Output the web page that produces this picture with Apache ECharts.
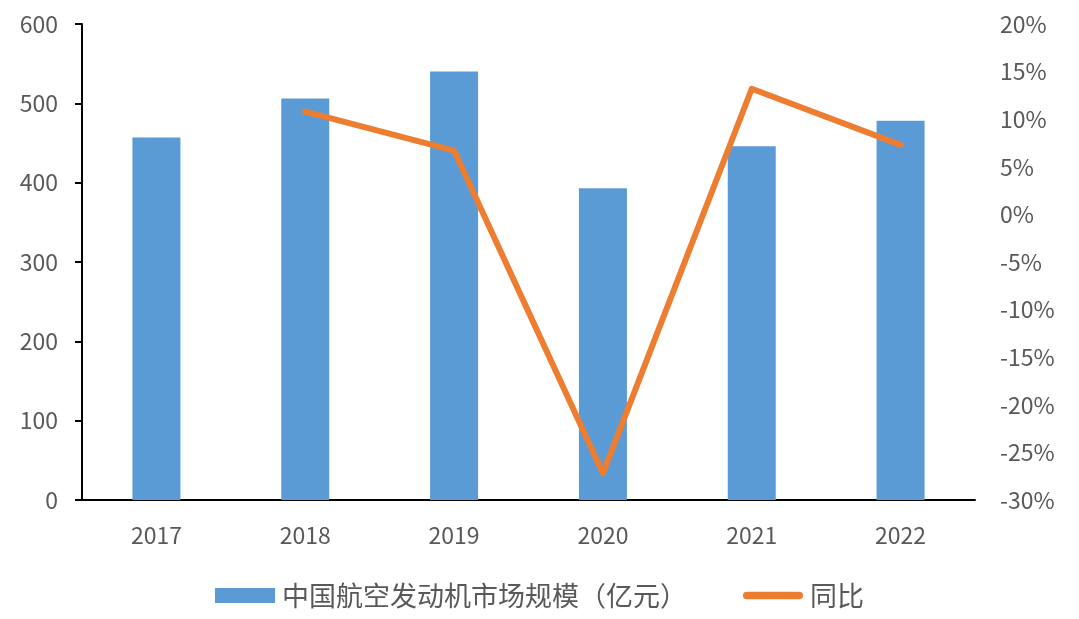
<!DOCTYPE html>
<html lang="zh">
<head>
    <meta charset="UTF-8">
    <title>中国航空发动机市场规模</title>
    <script src="https://cdn.jsdelivr.net/npm/echarts@6.0.0/dist/echarts.min.js"></script>
    <style>
        html, body { margin: 0; padding: 0; background: #fff; }
        #chart { width: 1079px; height: 619px; }
    </style>
</head>
<body>
    <div id="chart"></div>
    <script>
        // 数据
        const years = ['2017', '2018', '2019', '2020', '2021', '2022'];
        const marketSize = [457, 506, 540, 393, 446, 478];
        const yoy = [null, 10.8, 6.7, -27.2, 13.2, 7.3];

        const font = "'Noto Sans CJK SC', 'Noto Sans', sans-serif";
        const labelColor = '#595959';

        const chart = echarts.init(document.getElementById('chart'));

        chart.setOption({
            animation: false,
            textStyle: { fontFamily: font },
            grid: { left: 82, right: 104, top: 24, bottom: 119 },
            legend: {
                bottom: 5,
                left: 'center',
                itemGap: 56,
                itemWidth: 60,
                itemHeight: 15,
                textStyle: { fontSize: 27, color: labelColor, fontFamily: font, padding: [0, 0, 0, 2] },
                data: [
                    { name: '中国航空发动机市场规模（亿元）', icon: 'rect' },
                    { name: '同比', icon: 'path://M4,0 L60,0 A4,4 0 0 1 60,8 L4,8 A4,4 0 0 1 4,0 Z' }
                ]
            },
            xAxis: {
                type: 'category',
                data: years,
                axisLine: { lineStyle: { color: '#000', width: 2 } },
                axisTick: { show: false },
                axisLabel: { fontSize: 23, color: labelColor, margin: 24 }
            },
            yAxis: [
                {
                    type: 'value',
                    min: 0,
                    max: 600,
                    interval: 100,
                    axisLine: { show: true, lineStyle: { color: '#000', width: 2 } },
                    axisTick: { show: true, length: 7, lineStyle: { color: '#000', width: 2 } },
                    splitLine: { show: false },
                    axisLabel: { fontSize: 23, color: labelColor, margin: 24 }
                },
                {
                    type: 'value',
                    min: -30,
                    max: 20,
                    interval: 5,
                    position: 'right',
                    axisLine: { show: false },
                    axisTick: { show: false },
                    splitLine: { show: false },
                    axisLabel: {
                        fontSize: 23, color: labelColor, margin: 25,
                        formatter: v => v + '%'
                    }
                }
            ],
            series: [
                {
                    name: '中国航空发动机市场规模（亿元）',
                    type: 'bar',
                    data: marketSize,
                    barWidth: 48,
                    itemStyle: { color: '#5B9BD5' }
                },
                {
                    name: '同比',
                    type: 'line',
                    yAxisIndex: 1,
                    data: yoy,
                    showSymbol: false,
                    symbol: 'none',
                    lineStyle: { color: '#ED7D31', width: 6, cap: 'round', join: 'round' },
                    itemStyle: { color: '#ED7D31' }
                }
            ]
        });
    </script>
</body>
</html>
